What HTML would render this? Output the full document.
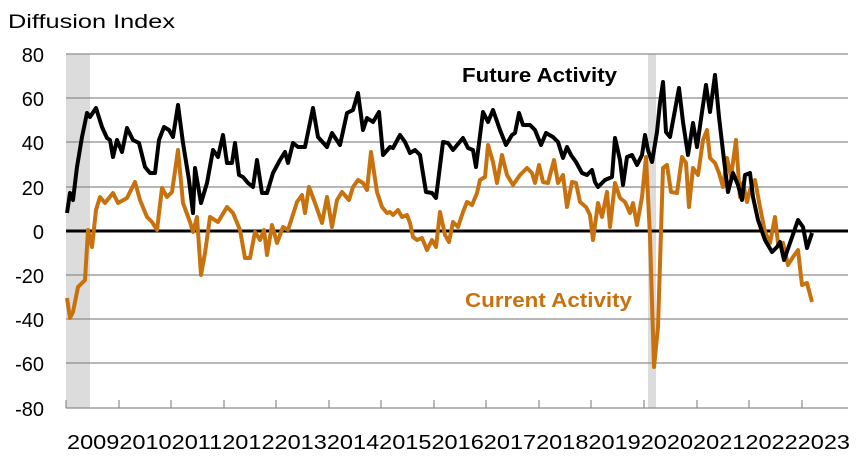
<!DOCTYPE html>
<html><head><meta charset="utf-8"><style>
body{margin:0;background:#fff}
svg{display:block}
text{font-family:"Liberation Sans",sans-serif}
</style></head><body>
<svg width="862" height="461" viewBox="0 0 862 461" xmlns="http://www.w3.org/2000/svg">
<rect width="862" height="461" fill="#fff"/>
<rect x="66" y="54" width="24" height="354" fill="#dcdcdc"/>
<rect x="648" y="54" width="8" height="354" fill="#dcdcdc"/>
<g stroke="#8c8c8c" stroke-width="1.3">
<line x1="66" y1="54" x2="848" y2="54"/><line x1="66" y1="98" x2="848" y2="98"/>
<line x1="66" y1="142" x2="848" y2="142"/><line x1="66" y1="187" x2="848" y2="187"/>
<line x1="66" y1="275" x2="848" y2="275"/><line x1="66" y1="319" x2="848" y2="319"/>
<line x1="66" y1="363" x2="848" y2="363"/><line x1="66" y1="408" x2="848" y2="408"/>
</g>
<g stroke="#8c8c8c" stroke-width="1.2">
<line x1="66" y1="400" x2="66" y2="408"/><line x1="119" y1="400" x2="119" y2="408"/><line x1="171" y1="400" x2="171" y2="408"/><line x1="224" y1="400" x2="224" y2="408"/><line x1="276" y1="400" x2="276" y2="408"/><line x1="329" y1="400" x2="329" y2="408"/><line x1="381" y1="400" x2="381" y2="408"/><line x1="434" y1="400" x2="434" y2="408"/><line x1="486" y1="400" x2="486" y2="408"/><line x1="539" y1="400" x2="539" y2="408"/><line x1="591" y1="400" x2="591" y2="408"/><line x1="644" y1="400" x2="644" y2="408"/><line x1="697" y1="400" x2="697" y2="408"/><line x1="749" y1="400" x2="749" y2="408"/><line x1="802" y1="400" x2="802" y2="408"/>
</g>
<line x1="66" y1="231" x2="848" y2="231" stroke="#000" stroke-width="3"/>
<polyline fill="none" stroke="#c8720f" stroke-width="4" stroke-linejoin="round" points="67,298 70,318 73,312 78,287 85,280 88,230 92,247 96,210 100,197 105,203 113,193 118,203 127,198 135,182 140,200 147,217 152,222 157,230 162,188 167,197 172,192 178,150 183,203 190,222 193,232 197,217 201,275 205,253 210,217 218,222 227,207 233,213 240,230 245,258 250,258 255,232 260,240 264,230 267,255 272,225 277,243 283,227 288,230 297,202 302,195 305,213 309,187 315,203 322,223 327,197 332,227 337,200 342,192 349,200 353,187 358,180 363,183 367,190 371,152 377,192 382,207 387,213 390,212 393,215 398,210 402,217 407,215 410,223 413,237 417,240 422,238 427,250 432,240 436,247 440,212 445,235 449,242 453,222 458,227 463,212 467,202 472,205 477,193 480,180 485,177 488,145 493,162 497,183 502,155 507,175 513,185 520,175 527,168 532,173 535,183 539,165 543,182 548,183 554,160 558,183 563,175 567,207 572,182 576,183 580,202 586,207 590,215 593,240 598,203 602,217 607,192 610,227 615,183 620,198 625,202 630,213 633,203 637,225 642,197 646,157 650,237 654,367 658,327 663,168 667,165 671,192 677,193 682,157 686,163 689,207 693,168 698,175 703,140 707,130 710,158 715,163 719,173 723,187 727,158 731,177 736,140 740,197 743,183 747,202 750,190 755,180 760,207 765,232 770,243 775,217 778,243 783,243 788,265 793,257 798,250 802,285 807,283 812,302"/>
<polyline fill="none" stroke="#000" stroke-width="4" stroke-linejoin="round" points="67,213 70,193 73,200 77,167 82,137 87,113 90,117 96,108 102,127 107,138 110,140 113,157 117,140 122,152 127,128 133,140 139,143 145,167 150,173 155,173 159,140 164,127 169,130 173,137 178,105 183,143 189,180 193,213 195,168 201,203 207,183 213,150 218,157 223,135 227,163 232,163 235,143 239,175 243,177 248,183 253,187 257,160 262,193 267,193 273,173 280,160 285,152 288,163 293,143 298,147 305,147 313,108 318,137 327,147 332,133 340,145 347,113 353,110 358,93 363,130 367,118 373,122 379,112 383,155 390,147 393,148 400,135 405,142 410,153 415,150 420,155 426,192 432,193 436,198 443,142 448,143 453,150 463,138 468,148 473,150 476,167 483,112 488,122 493,110 500,130 506,145 512,135 515,133 519,113 523,125 530,125 535,130 541,145 546,133 553,137 558,142 563,158 567,147 571,155 576,162 582,173 587,175 592,170 595,182 598,187 605,180 612,177 615,138 620,160 623,185 627,157 632,155 637,165 642,155 645,135 648,150 652,162 657,132 660,103 663,82 666,132 670,137 675,110 679,88 683,122 688,155 693,123 697,147 702,112 706,85 710,112 715,75 719,117 724,160 728,192 733,173 738,185 742,200 745,175 750,173 753,197 758,220 765,240 772,252 777,247 780,242 784,260 790,243 798,220 803,227 807,248 812,233"/>
<g font-size="20" fill="#000" text-anchor="end">
<text x="44" y="62">80</text><text x="44" y="106">60</text><text x="44" y="150">40</text><text x="44" y="195">20</text><text x="44" y="239">0</text><text x="44" y="283">-20</text><text x="44" y="327">-40</text><text x="44" y="371">-60</text><text x="44" y="416">-80</text>
</g>
<text x="8" y="28" font-size="19" textLength="167" lengthAdjust="spacingAndGlyphs">Diffusion Index</text>
<text x="67" y="449" font-size="20" textLength="783" lengthAdjust="spacingAndGlyphs">200920102011201220132014201520162017201820192020202120222023</text>
<text x="462" y="82" font-size="20" font-weight="bold" textLength="155" lengthAdjust="spacingAndGlyphs">Future Activity</text>
<text x="465" y="307" font-size="20" font-weight="bold" fill="#c8720f" textLength="167" lengthAdjust="spacingAndGlyphs">Current Activity</text>
</svg>
</body></html>
